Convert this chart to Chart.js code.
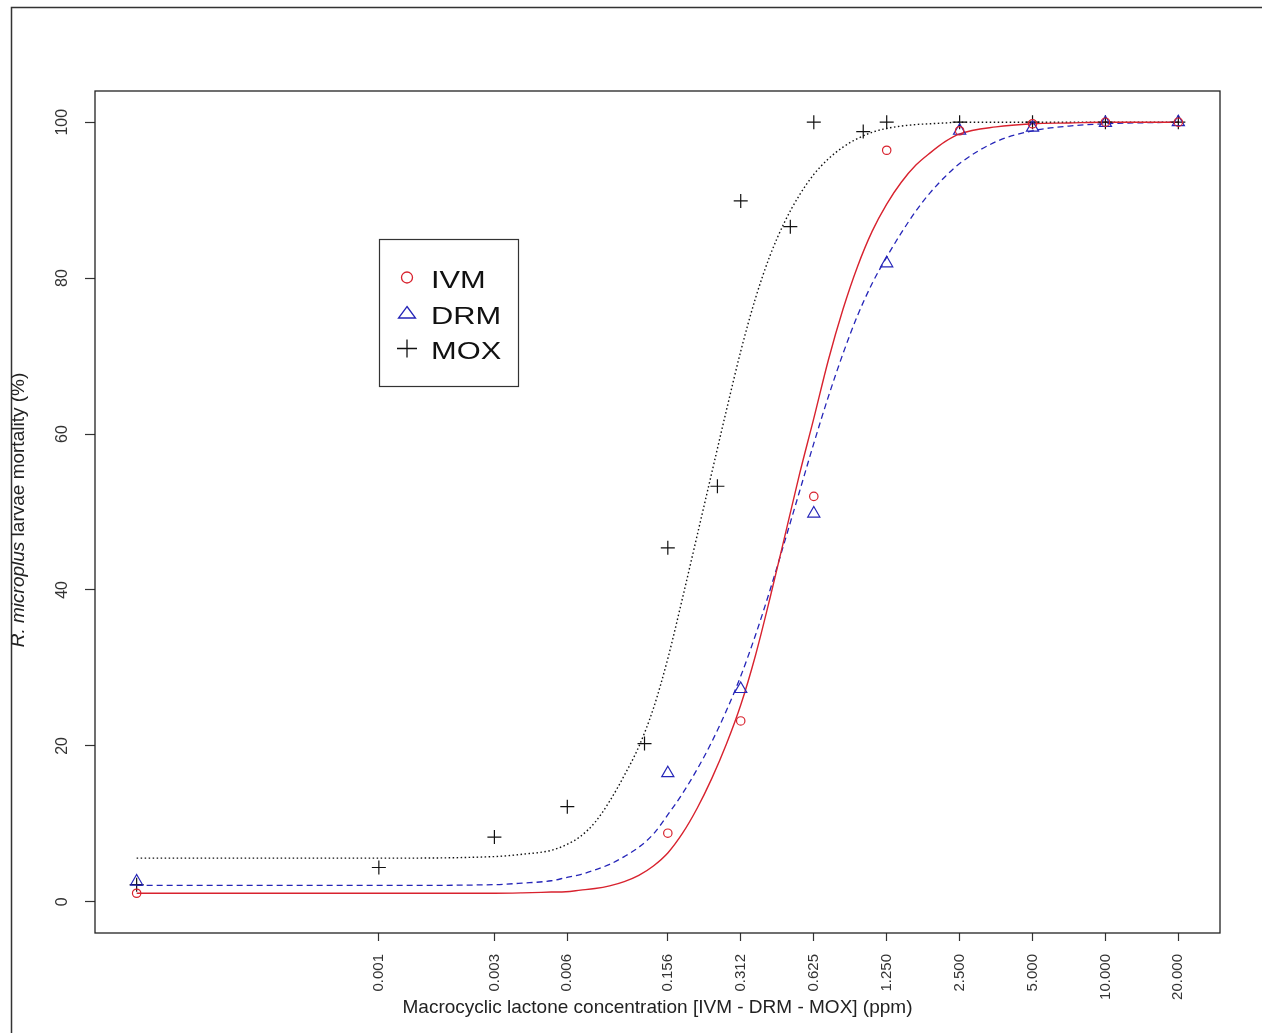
<!DOCTYPE html>
<html>
<head>
<meta charset="utf-8">
<title>R. microplus larvae mortality</title>
<script src="https://cdn.jsdelivr.net/npm/chart.js@4.4.1/dist/chart.umd.min.js"></script>
<style>
  html, body { margin: 0; padding: 0; background: #fff; }
  canvas { display: block; }
</style>
</head>
<body>
<canvas id="mortality-chart" width="1262" height="1033"></canvas>
<script>
// observed larval mortality (%) per dose (ppm); 0.001 is the untreated control
const ivmDose = [0.001, 0.156, 0.312, 0.625, 1.25, 2.5, 5, 10, 20];
const ivmMortality = [1.1, 8.8, 23.2, 52.0, 96.4, 98.9, 99.8, 100, 100];
const drmDose = [0.001, 0.156, 0.312, 0.625, 1.25, 2.5, 5, 10, 20];
const drmMortality = [2.6, 16.5, 27.3, 49.8, 81.9, 98.9, 99.3, 99.9, 100];
const moxDose = [0.001, 0.01, 0.03, 0.06, 0.125, 0.156, 0.25, 0.312, 0.5, 0.625, 1, 1.25, 2.5, 5, 10, 20];
const moxMortality = [2.2, 4.4, 8.3, 12.2, 20.3, 45.4, 53.3, 89.9, 86.6, 100, 98.8, 100, 100, 100, 100, 100];

// fitted dose-response curves
const curveDose = [0.001, 0.01, 0.03, 0.0391, 0.0515, 0.0592, 0.068, 0.0781, 0.0897, 0.1031,
    0.1184, 0.136, 0.1563, 0.1795, 0.2062, 0.2368, 0.2721, 0.3125, 0.3589, 0.4124,
    0.4737, 0.5441, 0.625, 0.7179, 0.8248, 0.9474, 1.088, 1.25, 1.436, 1.65,
    1.895, 2.177, 2.5, 3.536, 5, 7.07, 10, 20];
const ivmFit = [1.1, 1.1, 1.1, 1.15, 1.25, 1.3, 1.5, 1.7, 2.05, 2.6,
    3.4, 4.6, 6.3, 8.8, 12.0, 15.8, 20.2, 25.3, 31.6, 39.0,
    46.8, 54.7, 62.0, 69.5, 76.0, 81.5, 86.0, 89.5, 92.3, 94.5,
    96.1, 97.5, 98.5, 99.4, 99.8, 99.9, 100, 100];
const drmFit = [2.1, 2.1, 2.2, 2.4, 2.7, 3.1, 3.5, 4.1, 4.8, 5.8,
    7.0, 8.7, 11.2, 13.9, 17.0, 20.5, 24.5, 29.0, 34.2, 40.0,
    46.2, 52.5, 58.8, 64.8, 70.3, 75.2, 79.3, 82.7, 85.8, 88.6,
    91.0, 93.0, 94.7, 97.5, 98.9, 99.5, 99.8, 100];
const moxFit = [5.6, 5.6, 5.8, 6.1, 6.6, 7.3, 8.4, 10.2, 12.9, 16.2,
    19.9, 24.8, 31.3, 39.0, 47.0, 55.0, 63.0, 70.7, 77.4, 82.9,
    87.2, 90.6, 93.3, 95.3, 96.8, 97.9, 98.7, 99.2, 99.5, 99.7,
    99.8, 99.9, 100, 100, 100, 100, 100, 100];

// axis ticks: where each dose label sits, and the text printed there
const tickDose = [0.01, 0.03, 0.06, 0.156, 0.3125, 0.625, 1.25, 2.5, 5, 10, 20];
const tickLabels = ['0.001', '0.003', '0.006', '0.156', '0.312', '0.625', '1.250', '2.500', '5.000', '10.000', '20.000'];
const mortalityTicks = [0, 20, 40, 60, 80, 100];

const xTitle = 'Macrocyclic lactone concentration [IVM - DRM - MOX] (ppm)';
const yTitleItalic = 'R. microplus';
const yTitleRest = ' larvae mortality (%)';

const ivmColor = '#d8222e';
const drmColor = '#2525b8';
const moxColor = '#111111';
const fontFamily = '"Liberation Sans", Arial, sans-serif';

Chart.defaults.font.family = fontFamily;

const toPoints = (xs, ys) => xs.map((x, i) => ({ x, y: ys[i] }));

function markers(label, xs, ys, style, radius, color) {
    return {
        label,
        data: toPoints(xs, ys),
        showLine: false,
        pointStyle: style,
        pointRadius: radius,
        pointHoverRadius: radius,
        pointBorderWidth: 1.2,
        borderColor: color,
        backgroundColor: 'transparent'
    };
}

function fitLine(label, ys, color, dash, width) {
    return {
        label,
        data: toPoints(curveDose, ys),
        showLine: true,
        pointRadius: 0,
        borderColor: color,
        borderWidth: width,
        borderDash: dash,
        cubicInterpolationMode: 'monotone',
        fill: false
    };
}

const legendItems = [
    { label: 'IVM', symbol: 'circle', color: ivmColor },
    { label: 'DRM', symbol: 'triangle', color: drmColor },
    { label: 'MOX', symbol: 'plus', color: moxColor }
];

function drawSymbol(ctx, symbol, cx, cy) {
    ctx.beginPath();
    if (symbol === 'circle') {
        ctx.arc(cx, cy, 5.5, 0, Math.PI * 2);
    } else if (symbol === 'triangle') {
        ctx.moveTo(cx, cy - 6.5);
        ctx.lineTo(cx + 8.5, cy + 5);
        ctx.lineTo(cx - 8.5, cy + 5);
        ctx.closePath();
    } else {
        ctx.moveTo(cx - 10, cy);
        ctx.lineTo(cx + 10, cy);
        ctx.moveTo(cx, cy - 9);
        ctx.lineTo(cx, cy + 9);
    }
    ctx.stroke();
}

const framePlugin = {
    id: 'frame',
    afterDraw(chart) {
        const { ctx, chartArea: a, scales } = chart;
        ctx.save();

        // figure frame, only its top and left edges show
        ctx.strokeStyle = '#333';
        ctx.lineWidth = 1.5;
        ctx.beginPath();
        ctx.moveTo(11.5, chart.height);
        ctx.lineTo(11.5, 7.5);
        ctx.lineTo(chart.width, 7.5);
        ctx.stroke();

        // box round the plot region
        ctx.strokeStyle = '#222';
        ctx.lineWidth = 1.3;
        ctx.strokeRect(a.left, a.top, a.right - a.left, a.bottom - a.top);

        // axis titles
        ctx.fillStyle = '#222';
        ctx.textBaseline = 'alphabetic';
        ctx.font = `19px ${fontFamily}`;
        ctx.textAlign = 'center';
        ctx.fillText(xTitle, (a.left + a.right) / 2, a.bottom + 80);

        ctx.save();
        ctx.translate(24, (a.top + a.bottom) / 2 - 2);
        ctx.rotate(-Math.PI / 2);
        ctx.textAlign = 'left';
        ctx.font = `italic 19px ${fontFamily}`;
        const w1 = ctx.measureText(yTitleItalic).width;
        ctx.font = `19px ${fontFamily}`;
        const w2 = ctx.measureText(yTitleRest).width;
        const start = -(w1 + w2) / 2;
        ctx.font = `italic 19px ${fontFamily}`;
        ctx.fillText(yTitleItalic, start, 0);
        ctx.font = `19px ${fontFamily}`;
        ctx.fillText(yTitleRest, start + w1, 0);
        ctx.restore();

        // legend box, anchored at dose 0.01 / mortality 85 like legend(x, y)
        const left = Math.round(scales.x.getPixelForValue(0.01)) + 0.5;
        const top = Math.round(scales.y.getPixelForValue(85)) + 0.5;
        ctx.strokeStyle = '#333';
        ctx.lineWidth = 1.2;
        ctx.strokeRect(left, top, 139, 147);

        legendItems.forEach((item, i) => {
            const rowY = top + 38 + i * 35.5;
            ctx.strokeStyle = item.color;
            ctx.lineWidth = 1.3;
            drawSymbol(ctx, item.symbol, left + 27.5, rowY);
            ctx.save();
            ctx.translate(left + 51.5, rowY + 10.5);
            ctx.scale(1.34, 1);
            ctx.fillStyle = '#111';
            ctx.textAlign = 'left';
            ctx.font = `23px ${fontFamily}`;
            ctx.fillText(item.label, 0, 0);
            ctx.restore();
        });

        ctx.restore();
    }
};

const chart = new Chart(document.getElementById('mortality-chart'), {
    type: 'scatter',
    data: {
        datasets: [
            markers('IVM', ivmDose, ivmMortality, 'circle', 4.2, ivmColor),
            markers('DRM', drmDose, drmMortality, 'triangle', 7, drmColor),
            markers('MOX', moxDose, moxMortality, 'cross', 7, moxColor),
            fitLine('IVM fit', ivmFit, ivmColor, [], 1.4),
            fitLine('DRM fit', drmFit, drmColor, [6, 4], 1.3),
            fitLine('MOX fit', moxFit, moxColor, [1.5, 2.5], 1.4)
        ]
    },
    options: {
        responsive: false,
        animation: false,
        layout: { padding: { top: 91, right: 42, left: 0, bottom: 0 } },
        plugins: {
            legend: { display: false },
            tooltip: { enabled: false }
        },
        scales: {
            x: {
                type: 'logarithmic',
                bounds: 'data',
                min: 0.000673,
                max: 29.72,
                afterBuildTicks: scale => { scale.ticks = tickDose.map(value => ({ value })); },
                afterFit: scale => { scale.height = 100; },
                grid: { drawOnChartArea: false, drawTicks: true, tickLength: 8, tickColor: '#333', tickWidth: 1.2 },
                border: { display: false },
                ticks: {
                    autoSkip: false,
                    minRotation: 90,
                    maxRotation: 90,
                    padding: 13,
                    color: '#333',
                    font: { size: 15 },
                    callback: (value, index) => tickLabels[index]
                }
            },
            y: {
                type: 'linear',
                bounds: 'data',
                min: -4,
                max: 104,
                afterBuildTicks: scale => { scale.ticks = mortalityTicks.map(value => ({ value })); },
                afterFit: scale => { scale.width = 95; },
                grid: { drawOnChartArea: false, drawTicks: true, tickLength: 10, tickColor: '#333', tickWidth: 1.2 },
                border: { display: false },
                ticks: {
                    minRotation: 90,
                    maxRotation: 90,
                    crossAlign: 'center',
                    padding: 9,
                    color: '#333',
                    font: { size: 16 },
                    callback: value => String(value)
                }
            }
        }
    },
    plugins: [framePlugin]
});
</script>
</body>
</html>
